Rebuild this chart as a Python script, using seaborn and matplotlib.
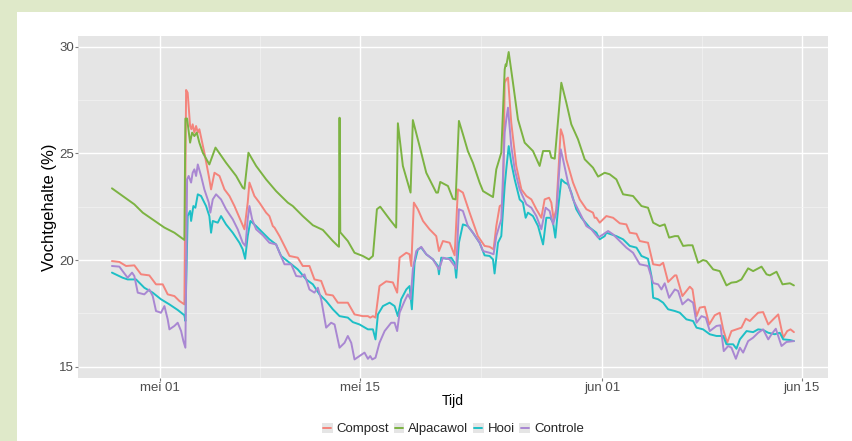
import numpy as np
import pandas as pd
import matplotlib
matplotlib.use("Agg")
import matplotlib.pyplot as plt
from matplotlib import font_manager
from matplotlib.patches import Rectangle
from matplotlib.lines import Line2D
from matplotlib.legend_handler import HandlerBase
import seaborn as sns

# ---------------- data (days since 1 May, moisture %) ----------------
series_names = ["Compost", "Alpacawol", "Hooi", "Controle"]
series_colors = ["#F4847C", "#7CB342", "#1EBFC6", "#A987D2"]

compost_dag = [-3.37, -2.85, -2.38, -1.80, -1.33, -0.75, -0.28, 0.19, 0.54, 1.01, 1.36, 1.71,
               1.83, 1.94, 2.11, 2.20, 2.29, 2.41, 2.53, 2.65, 2.76, 3.11, 3.42, 3.58, 3.82, 4.17,
               4.52, 4.87, 5.22, 5.57, 5.92, 6.15, 6.27, 6.62, 6.97, 7.44, 7.67, 7.79, 7.91, 8.03,
               8.38, 8.73, 9.08, 9.66, 10.01, 10.48, 10.83, 11.30, 11.65, 12.12, 12.47, 13.17,
               13.64, 14.22, 14.58, 14.74, 14.93, 15.11, 15.39, 15.86, 16.33, 16.63, 16.80, 17.27,
               17.50, 17.62, 17.80, 18.08, 18.44, 18.90, 19.37, 19.56, 19.84, 20.31, 20.66, 20.89,
               21.24, 21.71, 22.29, 22.76, 23.11, 23.39, 23.58, 23.82, 24.05, 24.17, 24.28, 24.40,
               24.63, 24.98, 25.34, 25.69, 26.04, 26.39, 26.74, 26.97, 27.28, 27.44, 27.60, 27.79,
               28.10, 28.26, 28.49, 28.96, 29.43, 29.90, 30.36, 30.48, 30.60, 30.83, 31.30, 31.77,
               32.24, 32.70, 32.94, 33.41, 33.64, 34.22, 34.58, 35.04, 35.28, 35.63, 36.10, 36.21,
               36.63, 37.15, 37.34, 37.62, 37.85, 38.20, 38.51, 38.90, 39.25, 39.49, 39.77, 40.07,
               40.42, 40.77, 41.08, 41.36, 41.59, 41.94, 42.29, 42.65, 43.00, 43.35, 43.70, 43.98,
               44.21, 44.45]
compost_vocht = [19.95, 19.91, 19.72, 19.75, 19.33, 19.28, 18.86, 18.86, 18.39, 18.31, 18.08, 17.92,
                 27.97, 27.84, 26.28, 26.13, 26.36, 25.97, 26.28, 25.97, 26.13, 25.03, 23.94, 23.31, 24.09, 23.94,
                 23.31, 23.00, 22.53, 21.98, 21.44, 22.69, 23.63, 23.00, 22.69, 22.22, 22.06, 21.83, 21.59, 21.52,
                 21.12, 20.66, 20.19, 20.11, 19.72, 19.72, 19.09, 19.02, 18.39, 18.34, 18.00, 18.00,
                 17.45, 17.37, 17.37, 17.30, 17.37, 17.30, 18.78, 19.00, 18.95, 18.47, 20.11, 20.34,
                 20.27, 19.72, 22.69, 22.38, 21.83, 21.44, 21.12, 20.42, 20.89, 20.81, 20.22, 23.31,
                 23.16, 22.22, 21.12, 20.66, 20.62, 20.50, 21.59, 22.53, 22.61, 28.31, 28.47, 28.55,
                 26.44, 24.41, 23.31, 23.00, 22.84, 22.38, 21.98, 22.84, 22.92, 22.69, 21.91, 22.38,
                 26.13, 25.81, 24.72, 23.63, 22.84, 22.38, 22.22, 21.98, 21.98, 21.75, 22.06, 21.98,
                 21.72, 21.67, 21.28, 21.23, 20.89, 20.81, 19.80, 19.75, 19.87, 18.97, 19.28, 19.28,
                 18.31, 18.75, 18.62, 17.37, 17.77, 17.81, 16.98, 17.41, 17.53, 16.75, 16.12, 16.67,
                 16.75, 16.83, 17.25, 17.14, 17.30, 17.53, 17.56, 16.98, 17.22, 17.45, 16.36, 16.67,
                 16.75, 16.62]

alpaca_dag = [-3.37, -1.80, -1.21, 0.07, 0.31, 1.01, 1.71, 1.78, 1.90, 2.11, 2.25, 2.41, 2.58, 2.76,
              3.00, 3.46, 3.89, 4.63, 5.34, 5.80, 5.92, 6.20, 6.74, 7.44, 8.14, 8.96, 9.31, 10.01,
              10.72, 11.42, 12.12, 12.47, 12.55, 12.59, 12.64, 13.17, 13.64, 14.22, 14.65, 14.93,
              15.21, 15.44, 16.10, 16.56, 16.68, 17.03, 17.57, 17.73, 18.20, 18.67, 19.37, 19.49,
              19.65, 20.19, 20.54, 20.73, 20.96, 21.24, 21.59, 21.94, 22.41, 22.65, 23.35, 23.58,
              23.93, 24.17, 24.24, 24.28, 24.45, 24.75, 25.10, 25.57, 26.15, 26.62, 26.86, 27.32,
              27.44, 27.68, 28.14, 28.49, 28.84, 29.31, 29.78, 30.36, 30.72, 31.18, 31.53, 32.00,
              32.47, 33.17, 33.76, 34.22, 34.58, 35.04, 35.39, 35.70, 36.10, 36.33, 36.68, 37.03,
              37.34, 37.73, 38.08, 38.32, 38.79, 39.25, 39.72, 40.07, 40.42, 40.77, 41.24, 41.59,
              42.18, 42.53, 42.76, 43.23, 43.65, 44.17, 44.45]
alpaca_vocht = [23.36, 22.61, 22.22, 21.63, 21.52, 21.28, 20.94, 26.63, 26.63, 25.50, 25.97, 25.81, 25.97, 25.50,
                25.03, 24.48, 25.27, 24.56, 23.94, 23.39, 23.34, 25.03, 24.41, 23.78, 23.23, 22.69, 22.53, 22.06,
                21.63, 21.41, 20.89, 20.66, 20.62, 26.67, 21.30, 20.89, 20.34, 20.19, 20.03, 20.19,
                22.38, 22.50, 21.91, 21.52, 26.41, 24.41, 23.16, 26.56, 25.34, 24.09, 23.16, 23.16,
                23.66, 23.47, 22.87, 22.84, 26.52, 25.90, 25.10, 24.56, 23.63, 23.23, 22.95, 24.25,
                25.03, 28.94, 29.17, 29.09, 29.75, 28.31, 26.59, 25.50, 25.11, 24.41, 25.11, 25.11,
                24.80, 24.75, 28.31, 27.38, 26.36, 25.66, 24.72, 24.33, 23.91, 24.09, 24.02, 23.78,
                23.08, 23.00, 22.53, 22.45, 21.75, 21.59, 21.67, 21.05, 21.12, 21.12, 20.66, 20.69,
                20.69, 19.87, 20.00, 19.95, 19.56, 19.48, 18.81, 18.94, 18.97, 19.09, 19.61, 19.48,
                19.69, 19.33, 19.28, 19.45, 18.86, 18.91, 18.81]

hooi_dag = [-3.37, -2.62, -2.27, -1.68, -1.10, -0.51, 0.07, 0.66, 1.24, 1.71, 1.78, 1.94, 2.11, 2.18,
            2.34, 2.48, 2.65, 2.88, 3.23, 3.46, 3.58, 3.70, 4.05, 4.28, 4.63, 5.10, 5.57, 5.80, 5.97,
            6.15, 6.34, 6.74, 7.21, 7.67, 8.14, 8.49, 9.08, 9.66, 10.25, 10.72, 11.18, 11.65, 12.12,
            12.59, 13.17, 13.52, 13.99, 14.58, 14.93, 15.11, 15.28, 15.63, 16.10, 16.45, 16.68,
            16.91, 17.27, 17.50, 17.66, 17.85, 18.08, 18.32, 18.67, 19.14, 19.49, 19.56, 19.72,
            20.07, 20.42, 20.66, 20.77, 20.96, 21.24, 21.59, 21.94, 22.41, 22.76, 23.11, 23.35,
            23.46, 23.70, 23.93, 24.17, 24.28, 24.45, 24.63, 24.87, 25.22, 25.45, 25.64, 25.80,
            26.15, 26.51, 26.86, 27.09, 27.37, 27.56, 27.72, 27.91, 28.14, 28.38, 28.61, 28.84,
            29.19, 29.55, 30.13, 30.60, 30.83, 31.18, 31.30, 31.65, 32.00, 32.47, 32.94, 33.41,
            33.76, 34.22, 34.46, 34.58, 34.93, 35.28, 35.63, 36.10, 36.45, 36.91, 37.38, 37.62,
            38.08, 38.55, 39.02, 39.49, 39.72, 40.19, 40.42, 40.66, 41.13, 41.59, 41.94, 42.29,
            42.65, 43.11, 43.46, 43.70, 44.17, 44.45]
hooi_vocht = [19.41, 19.17, 19.09, 19.09, 18.70, 18.47, 18.16, 17.92, 17.66, 17.41, 17.14, 22.06, 22.30, 21.83,
              22.53, 22.45, 23.08, 23.00, 22.53, 22.06, 21.28, 21.83, 21.75, 22.06, 21.67, 21.28, 20.81, 20.50, 20.06,
              21.12, 21.83, 21.59, 21.28, 20.97, 20.73, 20.19, 19.87, 19.56, 19.09, 18.86, 18.39, 18.08, 17.69,
              17.37, 17.30, 17.09, 16.98, 16.75, 16.75, 16.28, 17.45, 17.84, 18.00, 17.84, 17.37,
              18.16, 18.62, 18.78, 17.69, 19.87, 20.50, 20.58, 20.27, 20.03, 19.72, 19.33, 20.11,
              20.06, 20.11, 19.87, 19.17, 20.81, 21.67, 21.59, 21.28, 20.81, 20.22, 20.19, 20.03,
              19.37, 20.81, 21.12, 23.47, 24.25, 25.34, 24.56, 23.78, 22.84, 22.69, 21.98, 22.22,
              22.06, 21.59, 20.73, 21.98, 21.98, 21.75, 21.05, 22.38, 23.78, 23.63, 23.55, 23.16,
              22.38, 21.98, 21.52, 21.28, 20.97, 21.12, 21.28, 21.20, 21.12, 20.97, 20.66, 20.58,
              20.19, 20.06, 19.25, 18.23, 18.16, 18.00, 17.69, 17.61, 17.53, 17.22, 17.14, 16.83,
              16.75, 16.52, 16.44, 16.44, 16.05, 16.05, 15.84, 16.28, 16.67, 16.62, 16.75, 16.72,
              16.59, 16.52, 16.59, 16.28, 16.25, 16.20]

controle_dag = [-3.37, -2.85, -2.62, -2.27, -1.96, -1.80, -1.56, -1.10, -0.75, -0.51, -0.28, 0.07, 0.31,
                0.54, 0.66, 1.01, 1.24, 1.48, 1.64, 1.78, 1.90, 2.01, 2.18, 2.29, 2.41, 2.53, 2.65, 2.88,
                3.11, 3.42, 3.53, 3.70, 3.93, 4.28, 4.63, 5.10, 5.45, 5.80, 5.99, 6.15, 6.27, 6.46, 6.74,
                7.21, 7.67, 8.14, 8.38, 8.73, 9.20, 9.55, 9.90, 10.13, 10.48, 10.83, 11.07, 11.30, 11.65,
                12.00, 12.24, 12.59, 12.94, 13.17, 13.41, 13.64, 13.99, 14.34, 14.58, 14.74, 14.88,
                15.11, 15.39, 15.75, 16.21, 16.45, 16.63, 16.80, 17.15, 17.38, 17.57, 17.73, 17.97,
                18.32, 18.67, 19.14, 19.56, 19.84, 20.31, 20.66, 20.77, 20.96, 21.24, 21.59, 21.94,
                22.41, 22.65, 23.11, 23.39, 23.58, 23.93, 24.17, 24.28, 24.40, 24.63, 24.87, 25.22,
                25.69, 26.04, 26.39, 26.74, 27.04, 27.32, 27.56, 27.79, 28.10, 28.26, 28.61, 28.96,
                29.43, 29.90, 30.25, 30.72, 31.07, 31.42, 31.77, 32.24, 32.70, 33.17, 33.64, 34.22,
                34.58, 34.93, 35.16, 35.39, 35.70, 36.10, 36.33, 36.63, 37.03, 37.38, 37.62, 37.97,
                38.27, 38.55, 39.02, 39.30, 39.53, 39.84, 40.07, 40.38, 40.66, 40.89, 41.24, 41.59,
                41.94, 42.29, 42.65, 42.88, 43.18, 43.58, 43.93, 44.45]
controle_vocht = [19.72, 19.69, 19.48, 19.17, 19.41, 19.25, 18.47, 18.39, 18.62, 18.31, 17.61, 17.53, 17.84,
                  17.22, 16.75, 16.91, 17.06, 16.67, 16.20, 15.89, 23.78, 23.94, 23.63, 24.09, 24.25, 23.94, 24.48, 23.94,
                  23.31, 22.69, 22.22, 22.84, 23.08, 22.84, 22.38, 21.91, 21.44, 20.81, 20.66, 21.91, 22.53, 21.91, 21.44,
                  21.16, 20.81, 20.73, 20.34, 19.80, 19.80, 19.25, 19.22, 19.33, 18.62, 18.47, 18.70, 18.16, 16.83,
                  17.06, 16.98, 15.89, 16.12, 16.44, 16.12, 15.34, 15.50, 15.66, 15.37, 15.50, 15.34,
                  15.42, 16.12, 16.67, 17.06, 17.06, 16.67, 17.53, 18.08, 18.39, 18.16, 19.56, 20.42,
                  20.62, 20.27, 20.03, 19.56, 20.11, 20.03, 19.72, 19.59, 22.38, 22.30, 21.59, 21.28,
                  20.81, 20.42, 20.34, 20.27, 21.12, 21.91, 25.97, 26.59, 27.14, 25.34, 24.25, 23.31,
                  22.61, 22.45, 22.06, 21.44, 22.45, 22.30, 21.67, 22.22, 25.19, 24.72, 23.63, 22.84,
                  22.22, 21.59, 21.44, 21.05, 21.20, 21.36, 21.20, 20.89, 20.58, 20.34, 19.80, 19.72,
                  18.92, 18.86, 18.62, 18.91, 18.23, 18.62, 18.55, 17.92, 18.16, 18.00, 17.06, 17.37,
                  17.30, 16.67, 16.91, 16.94, 15.73, 15.97, 15.89, 15.37, 15.89, 15.66, 16.20, 16.36,
                  16.59, 16.75, 16.28, 16.52, 16.78, 15.97, 16.16, 16.20]

start_date = "2015-05-01 00:00"
x_tick_dates = ["2015-05-01 00:00", "2015-05-15 00:00", "2015-06-01 00:00", "2015-06-15 00:00"]
x_tick_labels = ["mei 01", "mei 15", "jun 01", "jun 15"]
x_minor_dates = ["2015-05-08 00:00", "2015-05-23 12:00", "2015-06-08 00:00"]
y_ticks = [15, 20, 25, 30]
y_minor = [17.5, 22.5, 27.5]

# ---------------- build long table ----------------
base = pd.Timestamp(start_date)
frames = []
for name, d, v in [("Compost", compost_dag, compost_vocht),
                   ("Alpacawol", alpaca_dag, alpaca_vocht),
                   ("Hooi", hooi_dag, hooi_vocht),
                   ("Controle", controle_dag, controle_vocht)]:
    frames.append(pd.DataFrame({
        "Tijd": base + pd.to_timedelta(np.array(d), unit="D"),
        "Vocht": v,
        "Serie": name,
    }))
df = pd.concat(frames, ignore_index=True)

# ---------------- fonts ----------------
sns.set_theme(style="white")
plt.rcParams["font.family"] = ["Liberation Sans", "DejaVu Sans"]
installed = {f.name for f in font_manager.fontManager.ttflist}
if "Liberation Sans Narrow" in installed:
    narrow = ["Liberation Sans Narrow", "Liberation Sans", "DejaVu Sans"]
    small_size, title_size = 11.0, 11.5
else:
    narrow = ["Liberation Sans", "DejaVu Sans"]
    small_size, title_size = 9.5, 10.0

# ---------------- figure ----------------
W, H = 852, 441
fig = plt.figure(figsize=(W / 100, H / 100), dpi=100)
fig.patch.set_facecolor("#DFE9C9")
fig.patches.append(Rectangle((17 / W, 0), 1, 1 - 12 / H, transform=fig.transFigure,
                             facecolor="white", edgecolor="none", zorder=-10))

ax = fig.add_axes([78 / W, (H - 378) / H, (828 - 78) / W, (378 - 36) / H])
ax.set_zorder(1)
ax.set_facecolor("#E5E5E5")

sns.lineplot(data=df, x="Tijd", y="Vocht", hue="Serie", hue_order=series_names,
             palette=series_colors, estimator=None, sort=False, linewidth=1.4,
             legend=False, ax=ax)

ax.set_xlim(base + pd.Timedelta(days=-5.75), base + pd.Timedelta(days=46.84))
ax.set_ylim(14.47, 30.50)

ax.set_xticks(pd.to_datetime(x_tick_dates), x_tick_labels)
ax.set_xticks(pd.to_datetime(x_minor_dates), minor=True)
ax.set_yticks(y_ticks, [str(t) for t in y_ticks])
ax.set_yticks(y_minor, minor=True)

ax.grid(True, which="major", color="white", linewidth=1.0)
ax.grid(True, which="minor", color="#F2F2F2", linewidth=0.5)
ax.set_axisbelow(True)
for s in ax.spines.values():
    s.set_visible(False)

ax.tick_params(axis="both", which="major", length=2.2, width=0.8, color="#7F7F7F",
               labelsize=small_size, labelcolor="#4D4D4D", direction="out",
               bottom=True, left=True)
ax.tick_params(axis="x", which="major", pad=0.5)
ax.tick_params(axis="y", which="major", pad=0.8)
ax.tick_params(axis="both", which="minor", length=0)
for lab in ax.get_xticklabels() + ax.get_yticklabels():
    lab.set_family(narrow)

ax.set_xlabel("Tijd", fontsize=title_size, color="black", labelpad=0, family=narrow)
ax.set_ylabel("Vochtgehalte (%)", fontsize=12, color="black", labelpad=1.2)


class KeyHandler(HandlerBase):
    def create_artists(self, legend, orig_handle, xdescent, ydescent, width, height, fontsize, trans):
        r = Rectangle((-xdescent, -ydescent), width, height, facecolor="#E5E5E5",
                      edgecolor="none", transform=trans)
        ln = Line2D([-xdescent + width * 0.12, -xdescent + width * 0.88],
                    [-ydescent + height / 2] * 2, color=orig_handle.get_color(),
                    lw=1.4, transform=trans)
        return [r, ln]


handles = [Line2D([], [], color=c) for c in series_colors]
leg = fig.legend(handles, series_names, loc="center", bbox_to_anchor=(453 / W, 1 - 429 / H),
                 ncol=4, frameon=False, prop={"family": narrow, "size": small_size},
                 handler_map={Line2D: KeyHandler()},
                 handlelength=0.8, handleheight=0.8, handletextpad=0.3, columnspacing=0.35,
                 borderpad=0)
leg.set_zorder(2)

fig.savefig("out.png", dpi=100, facecolor=fig.get_facecolor())
